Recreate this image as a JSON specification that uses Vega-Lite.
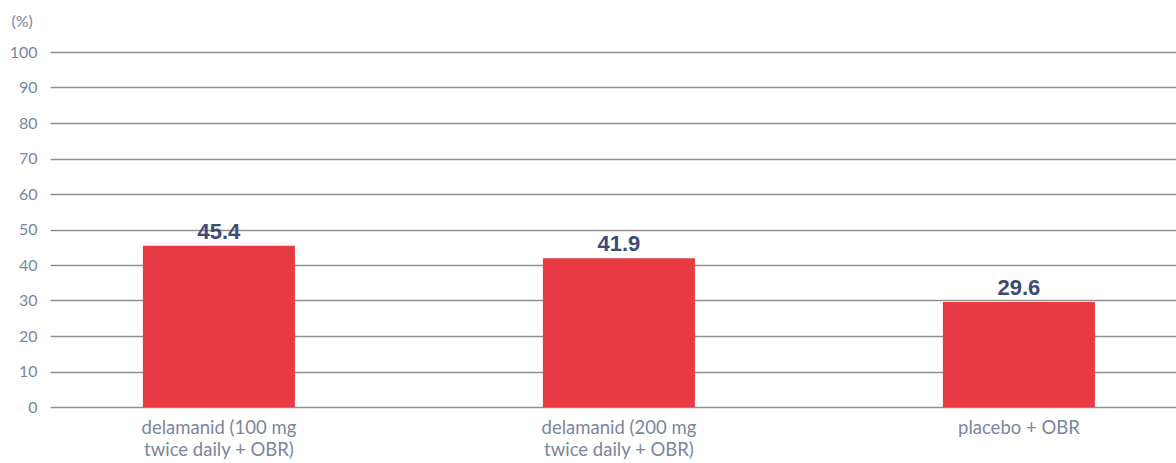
{
  "$schema": "https://vega.github.io/schema/vega-lite/v6.json",
  "autosize": "none",
  "width": 1126,
  "height": 355,
  "padding": {"left": 50, "top": 52, "right": 0, "bottom": 56},
  "background": "white",
  "data": {
    "values": [
      {"group": "delamanid (100 mg twice daily + OBR)", "value": 45.4},
      {"group": "delamanid (200 mg twice daily + OBR)", "value": 41.9},
      {"group": "placebo + OBR", "value": 29.6}
    ]
  },
  "config": {
    "view": {"stroke": null},
    "font": "Lato"
  },
  "encoding": {
    "x": {
      "field": "group",
      "type": "nominal",
      "sort": null,
      "scale": {"paddingInner": 0.62, "paddingOuter": 0.2175, "align": 0.534},
      "axis": {
        "title": null,
        "labelAngle": 0,
        "domain": false,
        "ticks": false,
        "labelPadding": 11,
        "labelFontSize": 18.5,
        "labelColor": "#7b86a0",
        "labelLineHeight": 22,
        "labelFont": "Lato",
        "labelExpr": "split(replace(datum.label, 'mg ', 'mg|'), '|')"
      }
    },
    "y": {
      "field": "value",
      "type": "quantitative",
      "scale": {"domain": [0, 100]},
      "axis": {
        "title": "(%)",
        "titleAngle": 0,
        "titleAlign": "left",
        "titleBaseline": "middle",
        "titleX": -39,
        "titleY": -31,
        "titleFontSize": 16,
        "titleFontWeight": "normal",
        "titleColor": "#7b86a0",
        "titleFont": "Lato",
        "values": [0, 10, 20, 30, 40, 50, 60, 70, 80, 90, 100],
        "domain": false,
        "ticks": false,
        "labelPadding": 13,
        "labelFontSize": 16,
        "labelColor": "#7b86a0",
        "labelFont": "Lato",
        "grid": true,
        "gridColor": "#8f8f8f",
        "gridWidth": 1.6
      }
    }
  },
  "layer": [
    {
      "mark": {"type": "bar", "color": "#e83a42"}
    },
    {
      "mark": {
        "type": "text",
        "baseline": "alphabetic",
        "dy": -7,
        "fontSize": 22,
        "fontWeight": "bold",
        "font": "Liberation Sans",
        "color": "#3e4a78"
      },
      "encoding": {
        "text": {"field": "value", "type": "quantitative", "format": ".1f"}
      }
    }
  ]
}
